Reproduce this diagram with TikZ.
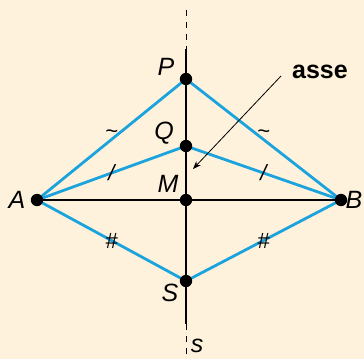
\documentclass[tikz,border=0pt]{standalone}
\usepackage{fontspec}
\setmainfont{Liberation Sans}
\usetikzlibrary{arrows.meta,positioning}
\definecolor{bgcream}{HTML}{FEF2DC}
\definecolor{segblue}{HTML}{1BA3DD}

\begin{document}
\begin{tikzpicture}[x=0.5pt, y=-0.5pt,
    dot/.style={circle, fill=black, inner sep=0pt, minimum size=6.2pt},
    lbl/.style={font=\fontsize{12.5}{15}\selectfont\itshape, inner sep=1pt},
    seg/.style={draw=segblue, line width=1.4pt},
    axisline/.style={draw=black, line width=1.4pt},
    tickmark/.style={font=\fontsize{11}{12}\selectfont\itshape, inner sep=0pt, text=black}
]
    % Background
    \useasboundingbox (0,0) rectangle (364,359);
    \fill[bgcream] (0,0) rectangle (364,359);

    % Points
    \coordinate (A) at (37,200);
    \coordinate (B) at (341,200);
    \coordinate (M) at (186,200);
    \coordinate (P) at (186,79);
    \coordinate (Q) at (186,146);
    \coordinate (S) at (186,281);
    \coordinate (top) at (186,49);
    \coordinate (topend) at (186,10);
    \coordinate (bot) at (186,324);
    \coordinate (botend) at (186,359);

    % Blue segments with marks
    \draw[seg] (A) -- node[tickmark, above=0pt] {\textasciitilde} (P);
    \draw[seg] (P) -- node[tickmark, above=0pt] {\textasciitilde} (B);
    \draw[seg] (A) -- node[tickmark] {/} (Q);
    \draw[seg] (Q) -- node[tickmark] {/} (B);
    \draw[seg] (A) -- node[tickmark] {\#} (S);
    \draw[seg] (S) -- node[tickmark] {\#} (B);

    % Segment AB and axis s
    \draw[axisline] (A) -- (B);
    \draw[axisline] (top) -- (bot);
    \draw[dashed, thin] (topend) -- (top);
    \draw[dashed, thin] (bot) -- (botend);

    % Dots
    \foreach \p in {A,B,M,P,Q,S}
        \node[dot] at (\p) {};

    % Labels
    \node[lbl] (labP) at (166,67) {P};
    \node[lbl] (labQ) at (164,133) {Q};
    \node[lbl] (labM) at (168,184) {M};
    \node[lbl] (labA) at (17,200) {A};
    \node[lbl] (labB) at (354,200) {B};
    \node[lbl] (labS) at (170,293) {S};
    \node[lbl] (labs) at (197,346) {s};

    % Axis label with arrow
    \node[font=\fontsize{12.5}{15}\selectfont\bfseries, inner sep=1pt] (asse) at (320,72) {asse};
    \coordinate (asseend) at (193,169);
    \draw[-{Stealth[length=4pt]}, line width=0.4pt] (281,76) -- (asseend);
\end{tikzpicture}
\end{document}
